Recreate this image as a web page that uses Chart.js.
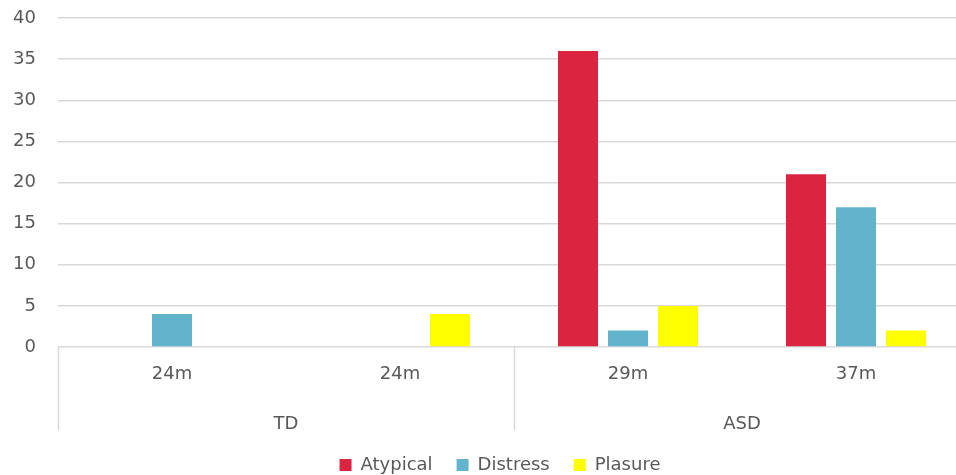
<!DOCTYPE html>
<html>
<head>
<meta charset="utf-8">
<script src="https://cdn.jsdelivr.net/npm/chart.js@4"></script>
<style>
  html, body { margin: 0; padding: 0; background: #fff; overflow: hidden; }
  #wrap { width: 1000px; height: 475px; overflow: hidden; }
</style>
</head>
<body>
<div id="wrap"><canvas id="chart" width="1000" height="484"></canvas></div>
<script>
const ages = ['24m', '24m', '29m', '37m'];
const groups = ['TD', 'ASD'];
const groupSizes = [2, 2];
const atypical = [0, 0, 36, 21];
const distress = [4, 0, 2, 17];
const plasure = [0, 4, 5, 2];

const textColor = '#595959';
const lineColor = '#d9d9d9';
const fontFamily = "'DejaVu Sans', sans-serif";

// vertical separators between the groups, running down through both label rows
const groupLines = {
    id: 'groupLines',
    afterLayout(chart) {
        // legend sits a little right of the plot centre
        chart.legend.left += 15;
        chart.legend.right += 15;
    },
    afterDraw(chart) {
        const x = chart.scales.x;
        const ctx = chart.ctx;
        const step = (x.right - x.left) / ages.length;
        ctx.save();
        ctx.strokeStyle = lineColor;
        ctx.lineWidth = 1.5;
        let idx = 0;
        const edges = [0];
        groupSizes.forEach(n => { idx += n; edges.push(idx); });
        edges.forEach(e => {
            const px = Math.round(x.left + e * step) + 0.5;
            ctx.beginPath();
            ctx.moveTo(px, chart.chartArea.bottom);
            ctx.lineTo(px, 430);
            ctx.stroke();
        });
        ctx.restore();
    }
};

new Chart(document.getElementById('chart'), {
    type: 'bar',
    data: {
        labels: ages,
        datasets: [
            { label: 'Atypical', data: atypical, backgroundColor: '#da2440' },
            { label: 'Distress', data: distress, backgroundColor: '#61b4cc' },
            { label: 'Plasure', data: plasure, backgroundColor: '#ffff00' }
        ]
    },
    options: {
        responsive: false,
        animation: false,
        categoryPercentage: 0.658,
        barPercentage: 0.8,
        layout: { padding: { top: 18, right: 30, left: 0, bottom: 0 } },
        scales: {
            y: {
                min: 0,
                max: 40,
                ticks: {
                    stepSize: 5,
                    padding: 22,
                    color: textColor,
                    font: { family: fontFamily, size: 18 }
                },
                grid: { color: lineColor, lineWidth: 1.5, drawTicks: false },
                border: { display: false },
                afterFit: s => {
                    s.width = 58;
                    s.paddingTop = 0;
                    s.paddingBottom = 0;
                }
            },
            x: {
                ticks: {
                    padding: 9,
                    color: textColor,
                    font: { family: fontFamily, size: 18 }
                },
                grid: { display: false },
                border: { display: false },
                afterFit: s => { s.height = 50; }
            },
            x2: {
                type: 'category',
                position: 'bottom',
                labels: groups,
                offset: true,
                ticks: {
                    padding: 9,
                    color: textColor,
                    font: { family: fontFamily, size: 18 }
                },
                grid: { display: false },
                border: { display: false },
                afterFit: s => { s.height = 35; }
            }
        },
        plugins: {
            legend: {
                position: 'bottom',
                labels: {
                    boxWidth: 12,
                    boxHeight: 12,
                    padding: 24,
                    color: textColor,
                    font: { family: fontFamily, size: 18 }
                }
            },
            tooltip: { enabled: false }
        }
    },
    plugins: [groupLines]
});
</script>
</body>
</html>
